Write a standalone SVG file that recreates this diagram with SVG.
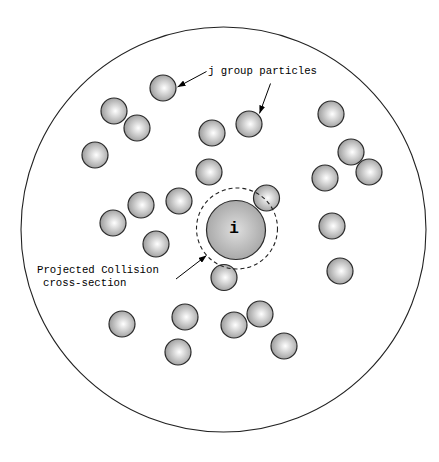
<svg xmlns="http://www.w3.org/2000/svg" width="439" height="462" viewBox="0 0 439 462">
<style>
.p{fill:url(#pg);stroke:#2a2a2a;stroke-width:1.2}
.lbl{font-family:"Liberation Mono","Courier New",monospace;font-size:10.7px;fill:#000}
.ar{stroke:#000;stroke-width:1;fill:none;marker-end:url(#ah)}
</style>
<defs>
<radialGradient id="pg" cx="0.55" cy="0.5" r="0.55">
<stop offset="0" stop-color="#ffffff"/>
<stop offset="1" stop-color="#9c9c9c"/>
</radialGradient>
<radialGradient id="ig" cx="0.5" cy="0.5" r="0.55">
<stop offset="0" stop-color="#dedede"/>
<stop offset="1" stop-color="#a4a4a4"/>
</radialGradient>
<marker id="ah" markerWidth="8" markerHeight="6" refX="8" refY="3" orient="auto" markerUnits="userSpaceOnUse">
<path d="M0,0 L8,3 L0,6 z" fill="#000"/>
</marker>
</defs>
<rect width="439" height="462" fill="#fff"/>
<g id="boundary"><circle cx="223.5" cy="229.5" r="202.5" fill="none" stroke="#222" stroke-width="1.1"/></g>
<g id="particles">
<circle class="p" cx="163" cy="88" r="13"/>
<circle class="p" cx="114" cy="111" r="13"/>
<circle class="p" cx="137" cy="128" r="13"/>
<circle class="p" cx="95" cy="155" r="13"/>
<circle class="p" cx="212" cy="133" r="13"/>
<circle class="p" cx="249" cy="124" r="13"/>
<circle class="p" cx="331" cy="114" r="13"/>
<circle class="p" cx="351" cy="152" r="13"/>
<circle class="p" cx="369" cy="172" r="13"/>
<circle class="p" cx="325" cy="178" r="13"/>
<circle class="p" cx="209" cy="172" r="13"/>
<circle class="p" cx="179" cy="201" r="13"/>
<circle class="p" cx="141" cy="205" r="13"/>
<circle class="p" cx="113" cy="223" r="13"/>
<circle class="p" cx="156" cy="244" r="13"/>
<circle class="p" cx="266.5" cy="198" r="13"/>
<circle class="p" cx="332" cy="226" r="13"/>
<circle class="p" cx="340" cy="271" r="13"/>
<circle class="p" cx="224" cy="277.5" r="13"/>
<circle class="p" cx="122" cy="324" r="13"/>
<circle class="p" cx="185" cy="317" r="13"/>
<circle class="p" cx="178" cy="352" r="13"/>
<circle class="p" cx="234" cy="325" r="13"/>
<circle class="p" cx="260" cy="314" r="13"/>
<circle class="p" cx="284" cy="346" r="13"/>
</g>
<g id="particle-i">
<circle cx="236" cy="230" r="29.5" fill="url(#ig)" stroke="#2a2a2a" stroke-width="1.2"/>
<text x="234" y="233" text-anchor="middle" font-family="Liberation Mono,Courier New,monospace" font-size="16" font-weight="bold">i</text>
</g>
<g id="cross-section"><circle cx="237" cy="228.5" r="40.5" fill="none" stroke="#222" stroke-width="1.1" stroke-dasharray="4,3"/></g>
<g id="labels">
<text class="lbl" x="208" y="74">j group particles</text>
<text class="lbl" x="37" y="273">Projected Collision</text>
<text class="lbl" x="43" y="285.5">cross-section</text>
</g>
<g id="connectors">
<line class="ar" x1="206.5" y1="71.5" x2="177.5" y2="87"/>
<line class="ar" x1="270.5" y1="83.5" x2="259.5" y2="113.5"/>
<line class="ar" x1="176" y1="279" x2="206.5" y2="255.5"/>
</g>
</svg>
